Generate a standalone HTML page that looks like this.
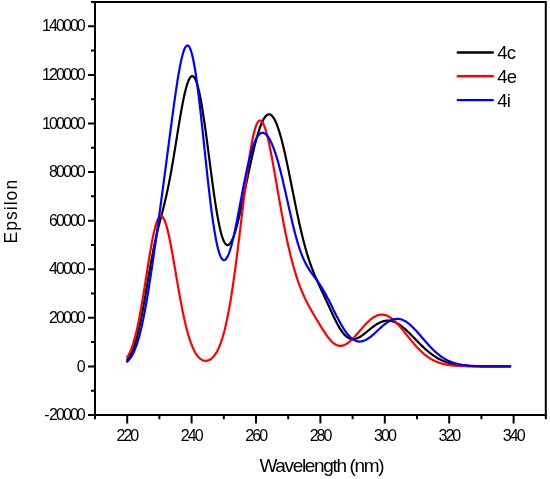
<!DOCTYPE html><html><head><meta charset="utf-8"><style>html,body{margin:0;padding:0;background:#fff;}body{width:550px;height:479px;overflow:hidden;}svg{display:block;will-change:transform;}text{font-family:"Liberation Sans",sans-serif;fill:#000;}</style></head><body>
<svg width="550" height="479" viewBox="0 0 550 479">
<polyline fill="none" stroke="#000" stroke-width="2.2" stroke-linejoin="round" stroke-linecap="round" points="127.2,359.8 127.7,359.2 128.2,358.6 128.7,357.9 129.2,357.2 129.7,356.4 130.2,355.6 130.7,354.7 131.2,353.7 131.7,352.7 132.2,351.6 132.7,350.4 133.2,349.1 133.7,347.8 134.2,346.4 134.7,344.9 135.2,343.3 135.7,341.7 136.2,340.0 136.7,338.2 137.2,336.3 137.7,334.3 138.2,332.2 138.7,330.1 139.2,327.8 139.7,325.5 140.2,323.2 140.7,320.7 141.2,318.2 141.7,315.6 142.2,313.0 142.7,310.3 143.2,307.5 143.7,304.7 144.2,301.9 144.7,299.0 145.2,296.1 145.7,293.2 146.2,290.2 146.7,287.3 147.2,284.3 147.7,281.4 148.2,278.4 148.7,275.5 149.2,272.6 149.7,269.7 150.2,266.9 150.7,264.1 151.2,261.4 151.7,258.7 152.2,256.0 152.7,253.4 153.2,250.8 153.7,248.3 154.2,245.9 154.7,243.5 155.2,241.2 155.7,238.9 156.2,236.7 156.7,234.5 157.2,232.4 157.7,230.3 158.2,228.3 158.7,226.2 159.2,224.3 159.7,222.3 160.2,220.3 160.7,218.4 161.2,216.5 161.7,214.5 162.2,212.6 162.7,210.7 163.2,208.7 163.7,206.7 164.2,204.7 164.7,202.6 165.2,200.5 165.7,198.4 166.2,196.2 166.7,193.9 167.2,191.6 167.7,189.3 168.2,186.9 168.7,184.4 169.2,181.9 169.7,179.3 170.2,176.6 170.7,173.9 171.2,171.2 171.7,168.3 172.2,165.5 172.7,162.6 173.2,159.6 173.7,156.6 174.2,153.6 174.7,150.6 175.2,147.5 175.7,144.4 176.2,141.3 176.7,138.2 177.2,135.1 177.7,132.0 178.2,128.9 178.7,125.9 179.2,122.8 179.7,119.9 180.2,116.9 180.7,114.0 181.2,111.2 181.7,108.4 182.2,105.7 182.7,103.1 183.2,100.6 183.7,98.2 184.2,95.8 184.7,93.6 185.2,91.5 185.7,89.5 186.2,87.6 186.7,85.8 187.2,84.2 187.7,82.7 188.2,81.4 188.7,80.2 189.2,79.1 189.7,78.2 190.2,77.5 190.7,76.9 191.2,76.5 191.7,76.2 192.2,76.1 192.7,76.2 193.2,76.4 193.7,76.8 194.2,77.4 194.7,78.1 195.2,79.0 195.7,80.1 196.2,81.3 196.7,82.7 197.2,84.3 197.7,86.0 198.2,87.9 198.7,89.9 199.2,92.1 199.7,94.4 200.2,96.9 200.7,99.5 201.2,102.2 201.7,105.0 202.2,108.0 202.7,111.1 203.2,114.3 203.7,117.6 204.2,120.9 204.7,124.4 205.2,127.9 205.7,131.5 206.2,135.2 206.7,138.9 207.2,142.7 207.7,146.5 208.2,150.3 208.7,154.2 209.2,158.1 209.7,161.9 210.2,165.8 210.7,169.6 211.2,173.4 211.7,177.2 212.2,181.0 212.7,184.7 213.2,188.3 213.7,191.9 214.2,195.4 214.7,198.8 215.2,202.1 215.7,205.4 216.2,208.5 216.7,211.6 217.2,214.5 217.7,217.3 218.2,220.0 218.7,222.6 219.2,225.1 219.7,227.4 220.2,229.6 220.7,231.6 221.2,233.5 221.7,235.3 222.2,236.9 222.7,238.3 223.2,239.7 223.7,240.8 224.2,241.9 224.7,242.8 225.2,243.5 225.7,244.1 226.2,244.5 226.7,244.9 227.2,245.0 227.7,245.1 228.2,245.0 228.7,244.8 229.2,244.4 229.7,243.9 230.2,243.3 230.7,242.6 231.2,241.8 231.7,240.9 232.2,239.8 232.7,238.7 233.2,237.4 233.7,236.1 234.2,234.7 234.7,233.2 235.2,231.6 235.7,229.9 236.2,228.1 236.7,226.3 237.2,224.5 237.7,222.5 238.2,220.5 238.7,218.5 239.2,216.4 239.7,214.2 240.2,212.1 240.7,209.8 241.2,207.6 241.7,205.3 242.2,203.0 242.7,200.7 243.2,198.3 243.7,195.9 244.2,193.6 244.7,191.2 245.2,188.8 245.7,186.4 246.2,184.0 246.7,181.6 247.2,179.2 247.7,176.8 248.2,174.4 248.7,172.0 249.2,169.7 249.7,167.3 250.2,165.0 250.7,162.7 251.2,160.5 251.7,158.2 252.2,156.0 252.7,153.9 253.2,151.7 253.7,149.7 254.2,147.6 254.7,145.6 255.2,143.6 255.7,141.7 256.2,139.8 256.7,138.0 257.2,136.2 257.7,134.5 258.2,132.9 258.7,131.3 259.2,129.8 259.7,128.3 260.2,126.9 260.7,125.6 261.2,124.3 261.7,123.1 262.2,122.0 262.7,120.9 263.2,119.9 263.7,119.0 264.2,118.2 264.7,117.5 265.2,116.8 265.7,116.2 266.2,115.7 266.7,115.3 267.2,114.9 267.7,114.7 268.2,114.5 268.7,114.4 269.2,114.4 269.7,114.4 270.2,114.6 270.7,114.8 271.2,115.2 271.7,115.6 272.2,116.1 272.7,116.7 273.2,117.3 273.7,118.1 274.2,118.9 274.7,119.8 275.2,120.8 275.7,121.8 276.2,123.0 276.7,124.2 277.2,125.5 277.7,126.9 278.2,128.3 278.7,129.8 279.2,131.4 279.7,133.0 280.2,134.7 280.7,136.5 281.2,138.3 281.7,140.2 282.2,142.1 282.7,144.1 283.2,146.2 283.7,148.3 284.2,150.4 284.7,152.6 285.2,154.8 285.7,157.1 286.2,159.4 286.7,161.7 287.2,164.1 287.7,166.5 288.2,168.9 288.7,171.3 289.2,173.8 289.7,176.2 290.2,178.7 290.7,181.2 291.2,183.7 291.7,186.2 292.2,188.7 292.7,191.2 293.2,193.7 293.7,196.2 294.2,198.7 294.7,201.2 295.2,203.7 295.7,206.1 296.2,208.6 296.7,211.0 297.2,213.4 297.7,215.7 298.2,218.1 298.7,220.4 299.2,222.7 299.7,224.9 300.2,227.1 300.7,229.3 301.2,231.5 301.7,233.6 302.2,235.6 302.7,237.7 303.2,239.7 303.7,241.6 304.2,243.5 304.7,245.4 305.2,247.3 305.7,249.0 306.2,250.8 306.7,252.5 307.2,254.2 307.7,255.8 308.2,257.4 308.7,259.0 309.2,260.5 309.7,262.0 310.2,263.4 310.7,264.8 311.2,266.2 311.7,267.6 312.2,268.9 312.7,270.2 313.2,271.5 313.7,272.7 314.2,274.0 314.7,275.2 315.2,276.3 315.7,277.5 316.2,278.7 316.7,279.8 317.2,280.9 317.7,282.0 318.2,283.1 318.7,284.2 319.2,285.3 319.7,286.4 320.2,287.5 320.7,288.5 321.2,289.6 321.7,290.7 322.2,291.7 322.7,292.8 323.2,293.9 323.7,295.0 324.2,296.0 324.7,297.1 325.2,298.2 325.7,299.3 326.2,300.4 326.7,301.5 327.2,302.5 327.7,303.6 328.2,304.7 328.7,305.8 329.2,306.9 329.7,308.0 330.2,309.1 330.7,310.2 331.2,311.3 331.7,312.4 332.2,313.5 332.7,314.5 333.2,315.6 333.7,316.7 334.2,317.7 334.7,318.7 335.2,319.8 335.7,320.8 336.2,321.7 336.7,322.7 337.2,323.7 337.7,324.6 338.2,325.5 338.7,326.4 339.2,327.3 339.7,328.1 340.2,328.9 340.7,329.7 341.2,330.5 341.7,331.2 342.2,331.9 342.7,332.6 343.2,333.2 343.7,333.8 344.2,334.4 344.7,334.9 345.2,335.4 345.7,335.9 346.2,336.3 346.7,336.8 347.2,337.1 347.7,337.5 348.2,337.8 348.7,338.1 349.2,338.3 349.7,338.5 350.2,338.7 350.7,338.9 351.2,339.0 351.7,339.1 352.2,339.1 352.7,339.2 353.2,339.2 353.7,339.1 354.2,339.1 354.7,339.0 355.2,338.9 355.7,338.8 356.2,338.6 356.7,338.4 357.2,338.3 357.7,338.0 358.2,337.8 358.7,337.6 359.2,337.3 359.7,337.0 360.2,336.7 360.7,336.4 361.2,336.1 361.7,335.7 362.2,335.4 362.7,335.0 363.2,334.7 363.7,334.3 364.2,333.9 364.7,333.5 365.2,333.1 365.7,332.7 366.2,332.3 366.7,331.9 367.2,331.5 367.7,331.1 368.2,330.7 368.7,330.3 369.2,329.8 369.7,329.4 370.2,329.0 370.7,328.6 371.2,328.2 371.7,327.8 372.2,327.4 372.7,327.1 373.2,326.7 373.7,326.3 374.2,326.0 374.7,325.6 375.2,325.3 375.7,324.9 376.2,324.6 376.7,324.3 377.2,324.0 377.7,323.7 378.2,323.4 378.7,323.1 379.2,322.9 379.7,322.6 380.2,322.4 380.7,322.2 381.2,322.0 381.7,321.8 382.2,321.6 382.7,321.4 383.2,321.3 383.7,321.1 384.2,321.0 384.7,320.9 385.2,320.8 385.7,320.8 386.2,320.7 386.7,320.7 387.2,320.6 387.7,320.6 388.2,320.6 388.7,320.6 389.2,320.7 389.7,320.7 390.2,320.8 390.7,320.9 391.2,321.0 391.7,321.1 392.2,321.2 392.7,321.3 393.2,321.5 393.7,321.7 394.2,321.9 394.7,322.1 395.2,322.3 395.7,322.5 396.2,322.8 396.7,323.0 397.2,323.3 397.7,323.6 398.2,323.9 398.7,324.2 399.2,324.5 399.7,324.8 400.2,325.2 400.7,325.5 401.2,325.9 401.7,326.3 402.2,326.7 402.7,327.1 403.2,327.5 403.7,327.9 404.2,328.3 404.7,328.7 405.2,329.2 405.7,329.6 406.2,330.1 406.7,330.6 407.2,331.0 407.7,331.5 408.2,332.0 408.7,332.5 409.2,333.0 409.7,333.4 410.2,333.9 410.7,334.5 411.2,335.0 411.7,335.5 412.2,336.0 412.7,336.5 413.2,337.0 413.7,337.5 414.2,338.0 414.7,338.5 415.2,339.1 415.7,339.6 416.2,340.1 416.7,340.6 417.2,341.1 417.7,341.6 418.2,342.1 418.7,342.6 419.2,343.2 419.7,343.7 420.2,344.2 420.7,344.6 421.2,345.1 421.7,345.6 422.2,346.1 422.7,346.6 423.2,347.1 423.7,347.5 424.2,348.0 424.7,348.5 425.2,348.9 425.7,349.4 426.2,349.8 426.7,350.2 427.2,350.7 427.7,351.1 428.2,351.5 428.7,351.9 429.2,352.3 429.7,352.7 430.2,353.1 430.7,353.5 431.2,353.9 431.7,354.3 432.2,354.6 432.7,355.0 433.2,355.3 433.7,355.7 434.2,356.0 434.7,356.3 435.2,356.7 435.7,357.0 436.2,357.3 436.7,357.6 437.2,357.9 437.7,358.2 438.2,358.4 438.7,358.7 439.2,359.0 439.7,359.2 440.2,359.5 440.7,359.7 441.2,360.0 441.7,360.2 442.2,360.4 442.7,360.7 443.2,360.9 443.7,361.1 444.2,361.3 444.7,361.5 445.2,361.7 445.7,361.9 446.2,362.0 446.7,362.2 447.2,362.4 447.7,362.5 448.2,362.7 448.7,362.8 449.2,363.0 449.7,363.1 450.2,363.3 450.7,363.4 451.2,363.5 451.7,363.7 452.2,363.8 452.7,363.9 453.2,364.0 453.7,364.1 454.2,364.2 454.7,364.3 455.2,364.4 455.7,364.5 456.2,364.6 456.7,364.7 457.2,364.7 457.7,364.8 458.2,364.9 458.7,365.0 459.2,365.0 459.7,365.1 460.2,365.2 460.7,365.2 461.2,365.3 461.7,365.3 462.2,365.4 462.7,365.4 463.2,365.5 463.7,365.5 464.2,365.6 464.7,365.6 465.2,365.7 465.7,365.7 466.2,365.7 466.7,365.8 467.2,365.8 467.7,365.8 468.2,365.9 468.7,365.9 469.2,365.9 469.7,366.0 470.2,366.0 470.7,366.0 471.2,366.0 471.7,366.0 472.2,366.1 472.7,366.1 473.2,366.1 473.7,366.1 474.2,366.1 474.7,366.1 475.2,366.2 475.7,366.2 476.2,366.2 476.7,366.2 477.2,366.2 477.7,366.2 478.2,366.2 478.7,366.2 479.2,366.3 479.7,366.3 480.2,366.3 480.7,366.3 481.2,366.3 481.7,366.3 482.2,366.3 482.7,366.3 483.2,366.3 483.7,366.3 484.2,366.3 484.7,366.3 485.2,366.3 485.7,366.3 486.2,366.3 486.7,366.3 487.2,366.3 487.7,366.4 488.2,366.4 488.7,366.4 489.2,366.4 489.7,366.4 490.2,366.4 490.7,366.4 491.2,366.4 491.7,366.4 492.2,366.4 492.7,366.4 493.2,366.4 493.7,366.4 494.2,366.4 494.7,366.4 495.2,366.4 495.7,366.4 496.2,366.4 496.7,366.4 497.2,366.4 497.7,366.4 498.2,366.4 498.7,366.4 499.2,366.4 499.7,366.4 500.2,366.4 500.7,366.4 501.2,366.4 501.7,366.4 502.2,366.4 502.7,366.4 503.2,366.4 503.7,366.4 504.2,366.4 504.7,366.4 505.2,366.4 505.7,366.4 506.2,366.4 506.7,366.4 507.2,366.4 507.7,366.4 508.2,366.4 508.7,366.4 509.2,366.4 509.7,366.4 510.2,366.4"/>
<polyline fill="none" stroke="#f00" stroke-width="2.2" stroke-linejoin="round" stroke-linecap="round" points="127.2,357.4 127.7,356.6 128.2,355.7 128.7,354.8 129.2,353.9 129.7,352.8 130.2,351.7 130.7,350.5 131.2,349.3 131.7,348.0 132.2,346.6 132.7,345.1 133.2,343.6 133.7,341.9 134.2,340.2 134.7,338.4 135.2,336.6 135.7,334.6 136.2,332.6 136.7,330.4 137.2,328.2 137.7,325.9 138.2,323.6 138.7,321.1 139.2,318.6 139.7,316.0 140.2,313.3 140.7,310.5 141.2,307.7 141.7,304.8 142.2,301.9 142.7,298.9 143.2,295.9 143.7,292.8 144.2,289.6 144.7,286.5 145.2,283.3 145.7,280.1 146.2,276.9 146.7,273.7 147.2,270.5 147.7,267.4 148.2,264.2 148.7,261.1 149.2,258.0 149.7,255.0 150.2,252.0 150.7,249.1 151.2,246.2 151.7,243.5 152.2,240.8 152.7,238.3 153.2,235.8 153.7,233.5 154.2,231.3 154.7,229.2 155.2,227.2 155.7,225.4 156.2,223.8 156.7,222.2 157.2,220.9 157.7,219.7 158.2,218.7 158.7,217.8 159.2,217.1 159.7,216.6 160.2,216.2 160.7,216.1 161.2,216.1 161.7,216.2 162.2,216.6 162.7,217.1 163.2,217.7 163.7,218.6 164.2,219.6 164.7,220.7 165.2,222.0 165.7,223.5 166.2,225.0 166.7,226.8 167.2,228.6 167.7,230.6 168.2,232.7 168.7,234.8 169.2,237.1 169.7,239.5 170.2,242.0 170.7,244.5 171.2,247.2 171.7,249.9 172.2,252.6 172.7,255.4 173.2,258.2 173.7,261.1 174.2,264.0 174.7,266.9 175.2,269.8 175.7,272.7 176.2,275.7 176.7,278.6 177.2,281.5 177.7,284.4 178.2,287.3 178.7,290.1 179.2,293.0 179.7,295.7 180.2,298.5 180.7,301.2 181.2,303.8 181.7,306.4 182.2,308.9 182.7,311.4 183.2,313.9 183.7,316.2 184.2,318.5 184.7,320.8 185.2,322.9 185.7,325.0 186.2,327.1 186.7,329.0 187.2,330.9 187.7,332.8 188.2,334.5 188.7,336.2 189.2,337.9 189.7,339.4 190.2,340.9 190.7,342.4 191.2,343.7 191.7,345.0 192.2,346.3 192.7,347.4 193.2,348.6 193.7,349.6 194.2,350.6 194.7,351.6 195.2,352.5 195.7,353.3 196.2,354.1 196.7,354.8 197.2,355.5 197.7,356.2 198.2,356.8 198.7,357.3 199.2,357.8 199.7,358.3 200.2,358.7 200.7,359.1 201.2,359.4 201.7,359.7 202.2,360.0 202.7,360.2 203.2,360.4 203.7,360.6 204.2,360.7 204.7,360.8 205.2,360.8 205.7,360.9 206.2,360.8 206.7,360.8 207.2,360.7 207.7,360.6 208.2,360.5 208.7,360.3 209.2,360.1 209.7,359.8 210.2,359.5 210.7,359.2 211.2,358.8 211.7,358.4 212.2,358.0 212.7,357.5 213.2,357.0 213.7,356.4 214.2,355.8 214.7,355.2 215.2,354.5 215.7,353.7 216.2,352.9 216.7,352.1 217.2,351.2 217.7,350.2 218.2,349.2 218.7,348.1 219.2,346.9 219.7,345.7 220.2,344.5 220.7,343.1 221.2,341.7 221.7,340.2 222.2,338.7 222.7,337.0 223.2,335.3 223.7,333.5 224.2,331.7 224.7,329.7 225.2,327.7 225.7,325.6 226.2,323.4 226.7,321.1 227.2,318.7 227.7,316.3 228.2,313.7 228.7,311.1 229.2,308.4 229.7,305.6 230.2,302.7 230.7,299.7 231.2,296.6 231.7,293.5 232.2,290.2 232.7,286.9 233.2,283.5 233.7,280.0 234.2,276.5 234.7,272.8 235.2,269.1 235.7,265.4 236.2,261.6 236.7,257.7 237.2,253.8 237.7,249.8 238.2,245.7 238.7,241.7 239.2,237.6 239.7,233.5 240.2,229.3 240.7,225.2 241.2,221.0 241.7,216.8 242.2,212.7 242.7,208.5 243.2,204.4 243.7,200.2 244.2,196.2 244.7,192.1 245.2,188.1 245.7,184.2 246.2,180.3 246.7,176.5 247.2,172.7 247.7,169.1 248.2,165.5 248.7,162.1 249.2,158.7 249.7,155.4 250.2,152.3 250.7,149.3 251.2,146.4 251.7,143.6 252.2,141.0 252.7,138.5 253.2,136.2 253.7,134.0 254.2,132.0 254.7,130.1 255.2,128.4 255.7,126.9 256.2,125.5 256.7,124.3 257.2,123.2 257.7,122.4 258.2,121.7 258.7,121.1 259.2,120.7 259.7,120.5 260.2,120.5 260.7,120.6 261.2,120.9 261.7,121.3 262.2,121.9 262.7,122.7 263.2,123.6 263.7,124.6 264.2,125.8 264.7,127.1 265.2,128.5 265.7,130.1 266.2,131.8 266.7,133.6 267.2,135.5 267.7,137.5 268.2,139.6 268.7,141.8 269.2,144.1 269.7,146.5 270.2,149.0 270.7,151.5 271.2,154.0 271.7,156.7 272.2,159.3 272.7,162.1 273.2,164.8 273.7,167.6 274.2,170.5 274.7,173.3 275.2,176.2 275.7,179.0 276.2,181.9 276.7,184.8 277.2,187.7 277.7,190.6 278.2,193.5 278.7,196.3 279.2,199.2 279.7,202.0 280.2,204.8 280.7,207.6 281.2,210.4 281.7,213.1 282.2,215.8 282.7,218.5 283.2,221.1 283.7,223.7 284.2,226.3 284.7,228.8 285.2,231.3 285.7,233.8 286.2,236.2 286.7,238.5 287.2,240.9 287.7,243.1 288.2,245.4 288.7,247.6 289.2,249.7 289.7,251.8 290.2,253.9 290.7,255.9 291.2,257.9 291.7,259.9 292.2,261.8 292.7,263.6 293.2,265.5 293.7,267.2 294.2,269.0 294.7,270.7 295.2,272.4 295.7,274.0 296.2,275.6 296.7,277.1 297.2,278.6 297.7,280.1 298.2,281.6 298.7,283.0 299.2,284.4 299.7,285.7 300.2,287.1 300.7,288.3 301.2,289.6 301.7,290.8 302.2,292.0 302.7,293.2 303.2,294.4 303.7,295.5 304.2,296.6 304.7,297.7 305.2,298.7 305.7,299.8 306.2,300.8 306.7,301.8 307.2,302.8 307.7,303.8 308.2,304.7 308.7,305.7 309.2,306.6 309.7,307.5 310.2,308.4 310.7,309.3 311.2,310.2 311.7,311.1 312.2,311.9 312.7,312.8 313.2,313.6 313.7,314.5 314.2,315.3 314.7,316.2 315.2,317.0 315.7,317.9 316.2,318.7 316.7,319.5 317.2,320.4 317.7,321.2 318.2,322.0 318.7,322.9 319.2,323.7 319.7,324.5 320.2,325.3 320.7,326.2 321.2,327.0 321.7,327.8 322.2,328.6 322.7,329.4 323.2,330.2 323.7,331.0 324.2,331.7 324.7,332.5 325.2,333.2 325.7,334.0 326.2,334.7 326.7,335.4 327.2,336.1 327.7,336.8 328.2,337.5 328.7,338.1 329.2,338.7 329.7,339.3 330.2,339.9 330.7,340.5 331.2,341.0 331.7,341.5 332.2,342.0 332.7,342.4 333.2,342.9 333.7,343.3 334.2,343.7 334.7,344.0 335.2,344.3 335.7,344.6 336.2,344.9 336.7,345.1 337.2,345.3 337.7,345.5 338.2,345.6 338.7,345.7 339.2,345.8 339.7,345.9 340.2,345.9 340.7,345.9 341.2,345.9 341.7,345.8 342.2,345.7 342.7,345.6 343.2,345.5 343.7,345.3 344.2,345.1 344.7,344.9 345.2,344.6 345.7,344.4 346.2,344.1 346.7,343.8 347.2,343.5 347.7,343.1 348.2,342.8 348.7,342.4 349.2,342.0 349.7,341.6 350.2,341.1 350.7,340.7 351.2,340.2 351.7,339.7 352.2,339.3 352.7,338.8 353.2,338.2 353.7,337.7 354.2,337.2 354.7,336.7 355.2,336.1 355.7,335.6 356.2,335.0 356.7,334.4 357.2,333.9 357.7,333.3 358.2,332.7 358.7,332.1 359.2,331.6 359.7,331.0 360.2,330.4 360.7,329.8 361.2,329.2 361.7,328.7 362.2,328.1 362.7,327.5 363.2,327.0 363.7,326.4 364.2,325.8 364.7,325.3 365.2,324.8 365.7,324.2 366.2,323.7 366.7,323.2 367.2,322.7 367.7,322.2 368.2,321.7 368.7,321.2 369.2,320.8 369.7,320.3 370.2,319.9 370.7,319.5 371.2,319.1 371.7,318.7 372.2,318.3 372.7,318.0 373.2,317.6 373.7,317.3 374.2,317.0 374.7,316.7 375.2,316.4 375.7,316.2 376.2,315.9 376.7,315.7 377.2,315.5 377.7,315.3 378.2,315.2 378.7,315.0 379.2,314.9 379.7,314.8 380.2,314.8 380.7,314.7 381.2,314.7 381.7,314.6 382.2,314.7 382.7,314.7 383.2,314.7 383.7,314.8 384.2,314.9 384.7,315.0 385.2,315.1 385.7,315.3 386.2,315.4 386.7,315.6 387.2,315.8 387.7,316.1 388.2,316.3 388.7,316.6 389.2,316.9 389.7,317.2 390.2,317.5 390.7,317.8 391.2,318.2 391.7,318.5 392.2,318.9 392.7,319.3 393.2,319.7 393.7,320.2 394.2,320.6 394.7,321.1 395.2,321.6 395.7,322.1 396.2,322.6 396.7,323.1 397.2,323.6 397.7,324.1 398.2,324.7 398.7,325.2 399.2,325.8 399.7,326.4 400.2,326.9 400.7,327.5 401.2,328.1 401.7,328.7 402.2,329.3 402.7,329.9 403.2,330.5 403.7,331.2 404.2,331.8 404.7,332.4 405.2,333.0 405.7,333.7 406.2,334.3 406.7,334.9 407.2,335.5 407.7,336.2 408.2,336.8 408.7,337.4 409.2,338.0 409.7,338.7 410.2,339.3 410.7,339.9 411.2,340.5 411.7,341.1 412.2,341.7 412.7,342.3 413.2,342.9 413.7,343.5 414.2,344.1 414.7,344.7 415.2,345.2 415.7,345.8 416.2,346.4 416.7,346.9 417.2,347.5 417.7,348.0 418.2,348.5 418.7,349.0 419.2,349.6 419.7,350.1 420.2,350.5 420.7,351.0 421.2,351.5 421.7,352.0 422.2,352.4 422.7,352.9 423.2,353.3 423.7,353.8 424.2,354.2 424.7,354.6 425.2,355.0 425.7,355.4 426.2,355.8 426.7,356.1 427.2,356.5 427.7,356.9 428.2,357.2 428.7,357.5 429.2,357.9 429.7,358.2 430.2,358.5 430.7,358.8 431.2,359.1 431.7,359.4 432.2,359.7 432.7,359.9 433.2,360.2 433.7,360.4 434.2,360.7 434.7,360.9 435.2,361.2 435.7,361.4 436.2,361.6 436.7,361.8 437.2,362.0 437.7,362.2 438.2,362.4 438.7,362.6 439.2,362.7 439.7,362.9 440.2,363.1 440.7,363.2 441.2,363.4 441.7,363.5 442.2,363.6 442.7,363.8 443.2,363.9 443.7,364.0 444.2,364.1 444.7,364.2 445.2,364.4 445.7,364.5 446.2,364.6 446.7,364.6 447.2,364.7 447.7,364.8 448.2,364.9 448.7,365.0 449.2,365.1 449.7,365.1 450.2,365.2 450.7,365.3 451.2,365.3 451.7,365.4 452.2,365.4 452.7,365.5 453.2,365.5 453.7,365.6 454.2,365.6 454.7,365.7 455.2,365.7 455.7,365.8 456.2,365.8 456.7,365.8 457.2,365.9 457.7,365.9 458.2,365.9 458.7,366.0 459.2,366.0 459.7,366.0 460.2,366.0 460.7,366.1 461.2,366.1 461.7,366.1 462.2,366.1 462.7,366.1 463.2,366.1 463.7,366.2 464.2,366.2 464.7,366.2 465.2,366.2 465.7,366.2 466.2,366.2 466.7,366.2 467.2,366.3 467.7,366.3 468.2,366.3 468.7,366.3 469.2,366.3 469.7,366.3 470.2,366.3 470.7,366.3 471.2,366.3 471.7,366.3 472.2,366.3 472.7,366.3 473.2,366.3 473.7,366.3 474.2,366.3 474.7,366.3 475.2,366.4 475.7,366.4 476.2,366.4 476.7,366.4 477.2,366.4 477.7,366.4 478.2,366.4 478.7,366.4 479.2,366.4 479.7,366.4 480.2,366.4 480.7,366.4 481.2,366.4 481.7,366.4 482.2,366.4 482.7,366.4 483.2,366.4 483.7,366.4 484.2,366.4 484.7,366.4 485.2,366.4 485.7,366.4 486.2,366.4 486.7,366.4 487.2,366.4 487.7,366.4 488.2,366.4 488.7,366.4 489.2,366.4 489.7,366.4 490.2,366.4 490.7,366.4 491.2,366.4 491.7,366.4 492.2,366.4 492.7,366.4 493.2,366.4 493.7,366.4 494.2,366.4 494.7,366.4 495.2,366.4 495.7,366.4 496.2,366.4 496.7,366.4 497.2,366.4 497.7,366.4 498.2,366.4 498.7,366.4 499.2,366.4 499.7,366.4 500.2,366.4 500.7,366.4 501.2,366.4 501.7,366.4 502.2,366.4 502.7,366.4 503.2,366.4 503.7,366.4 504.2,366.4 504.7,366.4 505.2,366.4 505.7,366.4 506.2,366.4 506.7,366.4 507.2,366.4 507.7,366.4 508.2,366.4 508.7,366.4 509.2,366.4 509.7,366.4 510.2,366.4"/>
<polyline fill="none" stroke="#00f" stroke-width="2.2" stroke-linejoin="round" stroke-linecap="round" points="127.2,361.6 127.7,361.1 128.2,360.6 128.7,360.1 129.2,359.5 129.7,358.9 130.2,358.2 130.7,357.5 131.2,356.8 131.7,356.0 132.2,355.1 132.7,354.2 133.2,353.2 133.7,352.2 134.2,351.1 134.7,349.9 135.2,348.7 135.7,347.4 136.2,346.1 136.7,344.6 137.2,343.1 137.7,341.6 138.2,339.9 138.7,338.2 139.2,336.4 139.7,334.6 140.2,332.6 140.7,330.6 141.2,328.5 141.7,326.3 142.2,324.1 142.7,321.7 143.2,319.3 143.7,316.9 144.2,314.3 144.7,311.7 145.2,309.0 145.7,306.3 146.2,303.5 146.7,300.6 147.2,297.7 147.7,294.7 148.2,291.6 148.7,288.5 149.2,285.4 149.7,282.2 150.2,279.0 150.7,275.7 151.2,272.3 151.7,269.0 152.2,265.6 152.7,262.2 153.2,258.7 153.7,255.2 154.2,251.7 154.7,248.2 155.2,244.6 155.7,241.1 156.2,237.5 156.7,233.9 157.2,230.2 157.7,226.6 158.2,223.0 158.7,219.3 159.2,215.6 159.7,212.0 160.2,208.3 160.7,204.6 161.2,200.9 161.7,197.1 162.2,193.4 162.7,189.7 163.2,185.9 163.7,182.2 164.2,178.4 164.7,174.7 165.2,170.9 165.7,167.1 166.2,163.3 166.7,159.5 167.2,155.7 167.7,151.9 168.2,148.1 168.7,144.2 169.2,140.4 169.7,136.6 170.2,132.8 170.7,129.0 171.2,125.2 171.7,121.5 172.2,117.7 172.7,114.0 173.2,110.3 173.7,106.7 174.2,103.1 174.7,99.5 175.2,96.0 175.7,92.5 176.2,89.1 176.7,85.8 177.2,82.6 177.7,79.4 178.2,76.4 178.7,73.4 179.2,70.6 179.7,67.8 180.2,65.2 180.7,62.8 181.2,60.4 181.7,58.2 182.2,56.2 182.7,54.3 183.2,52.6 183.7,51.1 184.2,49.7 184.7,48.5 185.2,47.5 185.7,46.7 186.2,46.1 186.7,45.7 187.2,45.5 187.7,45.5 188.2,45.8 188.7,46.2 189.2,46.8 189.7,47.7 190.2,48.8 190.7,50.0 191.2,51.5 191.7,53.2 192.2,55.1 192.7,57.2 193.2,59.5 193.7,62.0 194.2,64.7 194.7,67.5 195.2,70.5 195.7,73.7 196.2,77.1 196.7,80.6 197.2,84.3 197.7,88.1 198.2,92.0 198.7,96.0 199.2,100.2 199.7,104.5 200.2,108.8 200.7,113.3 201.2,117.8 201.7,122.4 202.2,127.0 202.7,131.7 203.2,136.4 203.7,141.1 204.2,145.8 204.7,150.6 205.2,155.3 205.7,160.0 206.2,164.7 206.7,169.4 207.2,174.0 207.7,178.6 208.2,183.1 208.7,187.5 209.2,191.8 209.7,196.1 210.2,200.2 210.7,204.3 211.2,208.3 211.7,212.1 212.2,215.8 212.7,219.4 213.2,222.9 213.7,226.2 214.2,229.4 214.7,232.4 215.2,235.3 215.7,238.0 216.2,240.6 216.7,243.1 217.2,245.3 217.7,247.4 218.2,249.4 218.7,251.2 219.2,252.8 219.7,254.2 220.2,255.5 220.7,256.7 221.2,257.6 221.7,258.4 222.2,259.1 222.7,259.6 223.2,259.9 223.7,260.1 224.2,260.1 224.7,260.0 225.2,259.7 225.7,259.3 226.2,258.7 226.7,258.0 227.2,257.2 227.7,256.2 228.2,255.2 228.7,253.9 229.2,252.6 229.7,251.2 230.2,249.6 230.7,248.0 231.2,246.3 231.7,244.4 232.2,242.5 232.7,240.5 233.2,238.4 233.7,236.2 234.2,234.0 234.7,231.7 235.2,229.3 235.7,226.9 236.2,224.5 236.7,222.0 237.2,219.4 237.7,216.8 238.2,214.3 238.7,211.6 239.2,209.0 239.7,206.3 240.2,203.7 240.7,201.0 241.2,198.4 241.7,195.7 242.2,193.1 242.7,190.5 243.2,187.9 243.7,185.3 244.2,182.8 244.7,180.3 245.2,177.8 245.7,175.4 246.2,173.0 246.7,170.6 247.2,168.4 247.7,166.1 248.2,164.0 248.7,161.9 249.2,159.8 249.7,157.8 250.2,155.9 250.7,154.1 251.2,152.3 251.7,150.6 252.2,149.0 252.7,147.4 253.2,145.9 253.7,144.5 254.2,143.2 254.7,142.0 255.2,140.8 255.7,139.7 256.2,138.7 256.7,137.8 257.2,137.0 257.7,136.2 258.2,135.5 258.7,134.9 259.2,134.4 259.7,133.9 260.2,133.6 260.7,133.3 261.2,133.0 261.7,132.9 262.2,132.8 262.7,132.8 263.2,132.8 263.7,133.0 264.2,133.2 264.7,133.4 265.2,133.7 265.7,134.1 266.2,134.6 266.7,135.1 267.2,135.7 267.7,136.3 268.2,137.0 268.7,137.8 269.2,138.6 269.7,139.5 270.2,140.4 270.7,141.4 271.2,142.4 271.7,143.5 272.2,144.7 272.7,145.9 273.2,147.1 273.7,148.5 274.2,149.8 274.7,151.2 275.2,152.7 275.7,154.2 276.2,155.8 276.7,157.4 277.2,159.1 277.7,160.8 278.2,162.5 278.7,164.3 279.2,166.2 279.7,168.1 280.2,170.0 280.7,171.9 281.2,173.9 281.7,176.0 282.2,178.0 282.7,180.1 283.2,182.3 283.7,184.4 284.2,186.6 284.7,188.8 285.2,191.0 285.7,193.2 286.2,195.4 286.7,197.6 287.2,199.9 287.7,202.1 288.2,204.4 288.7,206.6 289.2,208.8 289.7,211.1 290.2,213.3 290.7,215.4 291.2,217.6 291.7,219.8 292.2,221.9 292.7,224.0 293.2,226.0 293.7,228.0 294.2,230.0 294.7,232.0 295.2,233.9 295.7,235.8 296.2,237.6 296.7,239.4 297.2,241.1 297.7,242.8 298.2,244.5 298.7,246.0 299.2,247.6 299.7,249.1 300.2,250.5 300.7,251.9 301.2,253.3 301.7,254.6 302.2,255.9 302.7,257.1 303.2,258.3 303.7,259.4 304.2,260.5 304.7,261.5 305.2,262.5 305.7,263.5 306.2,264.5 306.7,265.4 307.2,266.3 307.7,267.1 308.2,267.9 308.7,268.7 309.2,269.5 309.7,270.3 310.2,271.0 310.7,271.8 311.2,272.5 311.7,273.2 312.2,273.9 312.7,274.6 313.2,275.2 313.7,275.9 314.2,276.6 314.7,277.3 315.2,278.0 315.7,278.6 316.2,279.3 316.7,280.0 317.2,280.7 317.7,281.4 318.2,282.1 318.7,282.9 319.2,283.6 319.7,284.4 320.2,285.1 320.7,285.9 321.2,286.7 321.7,287.5 322.2,288.3 322.7,289.2 323.2,290.0 323.7,290.9 324.2,291.7 324.7,292.6 325.2,293.5 325.7,294.4 326.2,295.3 326.7,296.3 327.2,297.2 327.7,298.2 328.2,299.1 328.7,300.1 329.2,301.1 329.7,302.1 330.2,303.1 330.7,304.1 331.2,305.1 331.7,306.1 332.2,307.1 332.7,308.1 333.2,309.1 333.7,310.2 334.2,311.2 334.7,312.2 335.2,313.2 335.7,314.2 336.2,315.2 336.7,316.2 337.2,317.1 337.7,318.1 338.2,319.1 338.7,320.0 339.2,321.0 339.7,321.9 340.2,322.8 340.7,323.7 341.2,324.6 341.7,325.5 342.2,326.3 342.7,327.1 343.2,328.0 343.7,328.8 344.2,329.5 344.7,330.3 345.2,331.0 345.7,331.7 346.2,332.4 346.7,333.1 347.2,333.7 347.7,334.3 348.2,334.9 348.7,335.5 349.2,336.1 349.7,336.6 350.2,337.1 350.7,337.5 351.2,338.0 351.7,338.4 352.2,338.8 352.7,339.2 353.2,339.5 353.7,339.8 354.2,340.1 354.7,340.4 355.2,340.6 355.7,340.8 356.2,341.0 356.7,341.1 357.2,341.3 357.7,341.4 358.2,341.5 358.7,341.5 359.2,341.6 359.7,341.6 360.2,341.5 360.7,341.5 361.2,341.4 361.7,341.4 362.2,341.3 362.7,341.1 363.2,341.0 363.7,340.8 364.2,340.6 364.7,340.4 365.2,340.2 365.7,340.0 366.2,339.7 366.7,339.4 367.2,339.1 367.7,338.8 368.2,338.5 368.7,338.1 369.2,337.8 369.7,337.4 370.2,337.1 370.7,336.7 371.2,336.3 371.7,335.9 372.2,335.4 372.7,335.0 373.2,334.6 373.7,334.1 374.2,333.7 374.7,333.2 375.2,332.8 375.7,332.3 376.2,331.9 376.7,331.4 377.2,330.9 377.7,330.5 378.2,330.0 378.7,329.5 379.2,329.1 379.7,328.6 380.2,328.2 380.7,327.7 381.2,327.2 381.7,326.8 382.2,326.4 382.7,325.9 383.2,325.5 383.7,325.1 384.2,324.7 384.7,324.3 385.2,323.9 385.7,323.5 386.2,323.1 386.7,322.8 387.2,322.5 387.7,322.1 388.2,321.8 388.7,321.5 389.2,321.2 389.7,320.9 390.2,320.7 390.7,320.4 391.2,320.2 391.7,320.0 392.2,319.8 392.7,319.6 393.2,319.5 393.7,319.3 394.2,319.2 394.7,319.1 395.2,319.0 395.7,319.0 396.2,318.9 396.7,318.9 397.2,318.9 397.7,318.9 398.2,318.9 398.7,318.9 399.2,319.0 399.7,319.1 400.2,319.2 400.7,319.3 401.2,319.4 401.7,319.6 402.2,319.8 402.7,320.0 403.2,320.2 403.7,320.4 404.2,320.7 404.7,320.9 405.2,321.2 405.7,321.5 406.2,321.8 406.7,322.1 407.2,322.5 407.7,322.9 408.2,323.2 408.7,323.6 409.2,324.0 409.7,324.4 410.2,324.9 410.7,325.3 411.2,325.8 411.7,326.2 412.2,326.7 412.7,327.2 413.2,327.7 413.7,328.2 414.2,328.7 414.7,329.2 415.2,329.8 415.7,330.3 416.2,330.8 416.7,331.4 417.2,331.9 417.7,332.5 418.2,333.1 418.7,333.6 419.2,334.2 419.7,334.8 420.2,335.4 420.7,335.9 421.2,336.5 421.7,337.1 422.2,337.7 422.7,338.3 423.2,338.9 423.7,339.4 424.2,340.0 424.7,340.6 425.2,341.2 425.7,341.7 426.2,342.3 426.7,342.9 427.2,343.4 427.7,344.0 428.2,344.5 428.7,345.1 429.2,345.6 429.7,346.2 430.2,346.7 430.7,347.2 431.2,347.8 431.7,348.3 432.2,348.8 432.7,349.3 433.2,349.8 433.7,350.2 434.2,350.7 434.7,351.2 435.2,351.7 435.7,352.1 436.2,352.5 436.7,353.0 437.2,353.4 437.7,353.8 438.2,354.2 438.7,354.6 439.2,355.0 439.7,355.4 440.2,355.8 440.7,356.2 441.2,356.5 441.7,356.9 442.2,357.2 442.7,357.5 443.2,357.9 443.7,358.2 444.2,358.5 444.7,358.8 445.2,359.1 445.7,359.4 446.2,359.6 446.7,359.9 447.2,360.2 447.7,360.4 448.2,360.7 448.7,360.9 449.2,361.1 449.7,361.3 450.2,361.6 450.7,361.8 451.2,362.0 451.7,362.2 452.2,362.3 452.7,362.5 453.2,362.7 453.7,362.9 454.2,363.0 454.7,363.2 455.2,363.3 455.7,363.5 456.2,363.6 456.7,363.7 457.2,363.9 457.7,364.0 458.2,364.1 458.7,364.2 459.2,364.3 459.7,364.4 460.2,364.5 460.7,364.6 461.2,364.7 461.7,364.8 462.2,364.9 462.7,365.0 463.2,365.0 463.7,365.1 464.2,365.2 464.7,365.2 465.2,365.3 465.7,365.4 466.2,365.4 466.7,365.5 467.2,365.5 467.7,365.6 468.2,365.6 468.7,365.7 469.2,365.7 469.7,365.7 470.2,365.8 470.7,365.8 471.2,365.9 471.7,365.9 472.2,365.9 472.7,365.9 473.2,366.0 473.7,366.0 474.2,366.0 474.7,366.0 475.2,366.1 475.7,366.1 476.2,366.1 476.7,366.1 477.2,366.1 477.7,366.2 478.2,366.2 478.7,366.2 479.2,366.2 479.7,366.2 480.2,366.2 480.7,366.2 481.2,366.2 481.7,366.3 482.2,366.3 482.7,366.3 483.2,366.3 483.7,366.3 484.2,366.3 484.7,366.3 485.2,366.3 485.7,366.3 486.2,366.3 486.7,366.3 487.2,366.3 487.7,366.3 488.2,366.3 488.7,366.3 489.2,366.4 489.7,366.4 490.2,366.4 490.7,366.4 491.2,366.4 491.7,366.4 492.2,366.4 492.7,366.4 493.2,366.4 493.7,366.4 494.2,366.4 494.7,366.4 495.2,366.4 495.7,366.4 496.2,366.4 496.7,366.4 497.2,366.4 497.7,366.4 498.2,366.4 498.7,366.4 499.2,366.4 499.7,366.4 500.2,366.4 500.7,366.4 501.2,366.4 501.7,366.4 502.2,366.4 502.7,366.4 503.2,366.4 503.7,366.4 504.2,366.4 504.7,366.4 505.2,366.4 505.7,366.4 506.2,366.4 506.7,366.4 507.2,366.4 507.7,366.4 508.2,366.4 508.7,366.4 509.2,366.4 509.7,366.4 510.2,366.4"/>
<path d="M95,2 H545.8 V415 H95 Z" fill="none" stroke="#000" stroke-width="2"/>
<path d="M88,415.00 H95 M91,390.71 H95 M88,366.41 H95 M91,342.12 H95 M88,317.82 H95 M91,293.53 H95 M88,269.24 H95 M91,244.94 H95 M88,220.65 H95 M91,196.35 H95 M88,172.06 H95 M91,147.76 H95 M88,123.47 H95 M91,99.18 H95 M88,74.88 H95 M91,50.59 H95 M88,26.29 H95 M91,2.00 H95 M95.00,415 V419.3 M127.20,415 V423.6 M159.40,415 V419.3 M191.60,415 V423.6 M223.80,415 V419.3 M256.00,415 V423.6 M288.20,415 V419.3 M320.40,415 V423.6 M352.60,415 V419.3 M384.80,415 V423.6 M417.00,415 V419.3 M449.20,415 V423.6 M481.40,415 V419.3 M513.60,415 V423.6 M545.80,415 V419.3" stroke="#000" stroke-width="2" fill="none"/>
<text x="83.8" y="420.10" font-size="16" letter-spacing="-1.95" text-anchor="end">20000</text>
<text x="44.2" y="420.10" font-size="16">-</text>
<text x="83.8" y="371.51" font-size="16" letter-spacing="-1.95" text-anchor="end">0</text>
<text x="83.8" y="322.92" font-size="16" letter-spacing="-1.95" text-anchor="end">20000</text>
<text x="83.8" y="274.34" font-size="16" letter-spacing="-1.95" text-anchor="end">40000</text>
<text x="83.8" y="225.75" font-size="16" letter-spacing="-1.95" text-anchor="end">60000</text>
<text x="83.8" y="177.16" font-size="16" letter-spacing="-1.95" text-anchor="end">80000</text>
<text x="83.8" y="128.57" font-size="16" letter-spacing="-1.95" text-anchor="end">100000</text>
<text x="83.8" y="79.98" font-size="16" letter-spacing="-1.95" text-anchor="end">120000</text>
<text x="83.8" y="31.39" font-size="16" letter-spacing="-1.95" text-anchor="end">140000</text>
<text x="126.90" y="440.5" font-size="16" letter-spacing="-1.95" text-anchor="middle">220</text>
<text x="191.30" y="440.5" font-size="16" letter-spacing="-1.95" text-anchor="middle">240</text>
<text x="255.70" y="440.5" font-size="16" letter-spacing="-1.95" text-anchor="middle">260</text>
<text x="320.10" y="440.5" font-size="16" letter-spacing="-1.95" text-anchor="middle">280</text>
<text x="384.50" y="440.5" font-size="16" letter-spacing="-1.95" text-anchor="middle">300</text>
<text x="448.90" y="440.5" font-size="16" letter-spacing="-1.95" text-anchor="middle">320</text>
<text x="513.30" y="440.5" font-size="16" letter-spacing="-1.95" text-anchor="middle">340</text>
<text x="321.35" y="471.7" font-size="19" letter-spacing="-1.34" text-anchor="middle">Wavelength (nm)</text>
<text transform="translate(16.5,211.2) rotate(-90)" font-size="17.5" letter-spacing="1.05" text-anchor="middle">Epsilon</text>
<path d="M457.8,52.50 H492.8" stroke="#000" stroke-width="2.4" stroke-linecap="round"/>
<text x="497.3" y="59.10" font-size="18.5" letter-spacing="-0.9">4c</text>
<path d="M457.8,76.30 H492.8" stroke="#f00" stroke-width="2.4" stroke-linecap="round"/>
<text x="497.3" y="82.90" font-size="18.5" letter-spacing="-0.9">4e</text>
<path d="M457.8,100.10 H492.8" stroke="#00f" stroke-width="2.4" stroke-linecap="round"/>
<text x="497.3" y="106.70" font-size="18.5" letter-spacing="-0.9">4i</text>
</svg></body></html>
